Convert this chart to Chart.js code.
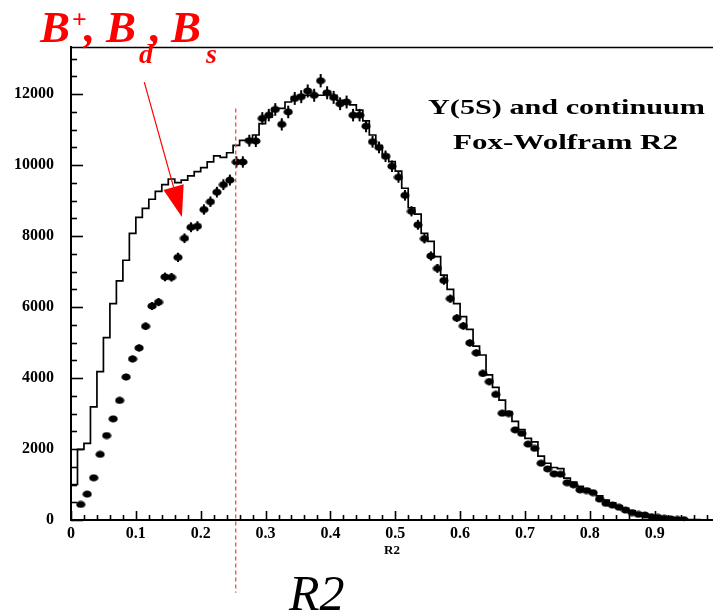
<!DOCTYPE html>
<html><head><meta charset="utf-8">
<script src="https://cdn.jsdelivr.net/npm/chart.js@4.4.1/dist/chart.umd.min.js"></script>
<style>html,body{margin:0;padding:0;background:#fff;overflow:hidden}#wrap{width:713px;height:612px;position:relative}</style>
</head><body><div id="wrap"><canvas id="c" width="713" height="612"></canvas></div>
<script>
// ---- categories: R2 bin centres (bin width 0.01) ----
const R2_BINS = [0.005,0.015,0.025,0.035,0.045,0.055,0.065,0.075,0.085,0.095,
0.105,0.115,0.125,0.135,0.145,0.155,0.165,0.175,0.185,0.195,
0.205,0.215,0.225,0.235,0.245,0.255,0.265,0.275,0.285,0.295,
0.305,0.315,0.325,0.335,0.345,0.355,0.365,0.375,0.385,0.395,
0.405,0.415,0.425,0.435,0.445,0.455,0.465,0.475,0.485,0.495,
0.505,0.515,0.525,0.535,0.545,0.555,0.565,0.575,0.585,0.595,
0.605,0.615,0.625,0.635,0.645,0.655,0.665,0.675,0.685,0.695,
0.705,0.715,0.725,0.735,0.745,0.755,0.765,0.775,0.785,0.795,
0.805,0.815,0.825,0.835,0.845,0.855,0.865,0.875,0.885,0.895,
0.905,0.915,0.925,0.935,0.945,0.955,0.965,0.975,0.985,0.995];
const BIN_HALF = 0.005;

// ---- histogram (continuum + signal MC, stepped line) ----
const HIST = [1000,1990,2160,3190,4180,5140,6100,6740,7320,8080,
8530,8780,9040,9260,9450,9610,9510,9580,9700,9820,
9930,10090,10260,10220,10350,10560,10700,10730,10850,11170,
11350,11600,11600,11780,11920,11970,11970,11970,11970,12070,
11970,11830,11780,11700,11550,11250,10850,10550,10300,10100,
9830,9350,8800,8620,8080,7850,7420,6900,6500,6100,
5730,5370,4900,4650,4090,3740,3380,3050,2780,2550,
2300,2200,1800,1600,1480,1450,1180,1070,950,870,
780,680,560,480,400,330,260,200,160,120,
90,65,45,30,20,12,8,5,3,2];

// ---- data points ----
const DATA = [null,440,730,1190,1850,2380,2850,3370,4030,4540,
4850,5460,6030,6140,6850,6840,7400,7940,8250,8280,
8750,8970,9240,9450,9580,10090,10090,10690,10680,11320,
11410,11570,11150,11500,11880,11930,12090,11970,12380,12040,
11910,11730,11780,11410,11410,11100,10660,10500,10250,9970,
9660,9150,8700,8320,7930,7440,7090,6750,6240,5690,
5470,4990,4710,4130,3900,3540,3010,3000,2540,2440,
2140,2020,1600,1440,1300,1290,1050,990,850,830,
770,590,470,420,360,280,210,160,140,95,
75,50,30,18,10,null,null,null,null,null];

// ---- axes ----
const X_TICKS = [0,0.1,0.2,0.3,0.4,0.5,0.6,0.7,0.8,0.9];
const X_TICK_LABELS = ['0','0.1','0.2','0.3','0.4','0.5','0.6','0.7','0.8','0.9'];
const Y_TICKS = [0,2000,4000,6000,8000,10000,12000];
const Y_TICK_LABELS = ['0','2000','4000','6000','8000','10000','12000'];
const X_RANGE = [0, 0.99];
const Y_RANGE = [0, 13330];
const X_MINOR = 0.02, Y_MINOR = 500;

// ---- annotations ----
const CUT_R2 = 0.254;
const CUT_SPAN = [11600, -2050];
const ARROW_FROM = {x: 0.113, y: 12340};
const ARROW_TIP = {x: 0.171, y: 8540};
const TITLE_LINES = ['Y(5S) and continuum', 'Fox-Wolfram R2'];
const AXIS_TITLE = 'R2';
const BIG_LABEL = 'R2';

// ---- build tables ----
const histPts = [{x: 0, y: 0}];
R2_BINS.forEach((c, i) => histPts.push({x: +(c - BIN_HALF).toFixed(4), y: HIST[i]}));
histPts.push({x: +(R2_BINS[R2_BINS.length - 1] + BIN_HALF).toFixed(4), y: HIST[HIST.length - 1]});
const dataPts = [];
R2_BINS.forEach((c, i) => { if (DATA[i] !== null) dataPts.push({x: c, y: DATA[i]}); });

// ellipse marker
const dot = document.createElement('canvas');
dot.width = 10; dot.height = 8;
(function(){const g = dot.getContext('2d'); g.fillStyle = '#000'; g.beginPath(); g.ellipse(5, 4, 4.6, 3.6, 0, 0, Math.PI*2); g.fill();})();

function stretchText(ctx, text, x, y, font, width, align) {
  ctx.save();
  ctx.font = font;
  const w = ctx.measureText(text).width;
  const s = width / w;
  ctx.translate(align === 'center' ? x - width/2 : x, y);
  ctx.scale(s, 1);
  ctx.textAlign = 'left';
  ctx.fillText(text, 0, 0);
  ctx.restore();
}

const deco = {
  id: 'deco',
  afterDatasetsDraw(chart) {
    const ctx = chart.ctx;
    const meta = chart.getDatasetMeta(1);
    const ds = chart.data.datasets[1].data;
    ctx.save();
    ctx.strokeStyle = '#000'; ctx.lineWidth = 2;
    meta.data.forEach((pt, i) => {
      const hl = 1.5 + 5 * ds[i].y / 12000;
      ctx.beginPath(); ctx.moveTo(pt.x, pt.y - hl); ctx.lineTo(pt.x, pt.y + hl); ctx.stroke();
    });
    ctx.restore();
  },
  afterDraw(chart) {
    const ctx = chart.ctx, xs = chart.scales.x, ys = chart.scales.y, a = chart.chartArea;
    ctx.save();
    // inside ticks
    ctx.strokeStyle = '#000'; ctx.lineWidth = 1.6;
    for (let k = 0; k * Y_MINOR <= Y_RANGE[1]; k++) {
      const v = k * Y_MINOR, y = Math.round(ys.getPixelForValue(v)) + 0.5;
      const len = (v % 2000 === 0) ? 12 : 6;
      ctx.beginPath(); ctx.moveTo(a.left, y); ctx.lineTo(a.left + len, y); ctx.stroke();
    }
    for (let k = 0; k * X_MINOR <= X_RANGE[1] + 1e-9; k++) {
      const x = Math.round(xs.getPixelForValue(k * X_MINOR)) + 0.5;
      const len = (k % 5 === 0) ? 9 : 5;
      ctx.beginPath(); ctx.moveTo(x, a.bottom); ctx.lineTo(x, a.bottom - len); ctx.stroke();
    }
    // top frame
    ctx.lineWidth = 1.6;
    ctx.beginPath(); ctx.moveTo(a.left, a.top + 0.5); ctx.lineTo(a.right, a.top + 0.5); ctx.stroke();
    // cut line
    const cx = xs.getPixelForValue(CUT_R2);
    ctx.strokeStyle = 'rgb(255,70,70)'; ctx.lineWidth = 1.3; ctx.setLineDash([4, 3]);
    ctx.beginPath(); ctx.moveTo(cx, ys.getPixelForValue(CUT_SPAN[0])); ctx.lineTo(cx, ys.getPixelForValue(CUT_SPAN[1])); ctx.stroke();
    ctx.setLineDash([]);
    // arrow
    const x0 = xs.getPixelForValue(ARROW_FROM.x), y0 = ys.getPixelForValue(ARROW_FROM.y);
    const x1 = xs.getPixelForValue(ARROW_TIP.x), y1 = ys.getPixelForValue(ARROW_TIP.y);
    const L = Math.hypot(x1 - x0, y1 - y0), ux = (x1 - x0) / L, uy = (y1 - y0) / L;
    const hlen = 31, hw = 10.5;
    const bx = x1 - ux * hlen, by = y1 - uy * hlen;
    ctx.strokeStyle = '#ff0000'; ctx.fillStyle = '#ff0000'; ctx.lineWidth = 1.2;
    ctx.beginPath(); ctx.moveTo(x0, y0); ctx.lineTo(bx, by); ctx.stroke();
    ctx.beginPath(); ctx.moveTo(x1, y1); ctx.lineTo(bx - uy * hw, by + ux * hw); ctx.lineTo(bx + uy * hw, by - ux * hw); ctx.closePath(); ctx.fill();
    // red particle label
    ctx.textBaseline = 'alphabetic'; ctx.textAlign = 'left';
    const big = 'italic bold 45px "Liberation Serif"', sub = 'italic bold 28px "Liberation Serif"';
    ctx.font = big; ctx.fillText('B', 40, 42);
    ctx.font = 'bold 26px "Liberation Serif"'; ctx.fillText('+', 72, 28);
    ctx.font = big; ctx.fillText(',', 84, 42);
    ctx.fillText('B', 106, 42);
    ctx.font = sub; ctx.fillText('d', 139, 63);
    ctx.font = big; ctx.fillText(',', 150, 42);
    ctx.fillText('B', 171, 42);
    ctx.font = sub; ctx.fillText('s', 206, 63);
    // title lines
    ctx.fillStyle = '#000';
    stretchText(ctx, TITLE_LINES[0], 566.5, 113.5, 'bold 22px "Liberation Serif"', 277, 'center');
    stretchText(ctx, TITLE_LINES[1], 565.5, 148.5, 'bold 22px "Liberation Serif"', 225, 'center');
    // big R2
    ctx.font = 'italic 50px "Liberation Serif"';
    ctx.fillText(BIG_LABEL, 289, 610);
    ctx.restore();
  }
};

const tickFont = {family: 'Liberation Serif', weight: 'bold', size: 16};
new Chart(document.getElementById('c'), {
  type: 'scatter',
  data: {datasets: [
    {label: 'continuum', data: histPts, showLine: true, stepped: 'before', borderColor: '#000', borderWidth: 1.7,
     pointRadius: 0, fill: false, order: 2},
    {label: 'data', data: dataPts, showLine: false, pointStyle: dot, pointRadius: 4, backgroundColor: '#000',
     borderColor: '#000', order: 1}
  ]},
  options: {
    responsive: false, animation: false, devicePixelRatio: 1,
    layout: {autoPadding: false, padding: {top: 47, right: 0, bottom: 0, left: 0}},
    plugins: {legend: {display: false}, tooltip: {enabled: false}},
    scales: {
      x: {type: 'linear', min: X_RANGE[0], max: X_RANGE[1],
        grid: {display: false, drawTicks: false}, border: {display: true, color: '#000', width: 2},
        afterBuildTicks: s => { s.ticks = X_TICKS.map(v => ({value: v})); },
        afterFit: s => { s.height = 92; s.paddingLeft = 0; s.paddingRight = 0; },
        ticks: {padding: 4, font: tickFont, color: '#000', maxRotation: 0, autoSkip: false,
          callback: (v, i) => X_TICK_LABELS[i]},
        title: {display: true, text: AXIS_TITLE, color: '#000',
          font: {family: 'Liberation Serif', weight: 'bold', size: 13}, padding: {top: 0, bottom: 54}}
      },
      y: {type: 'linear', min: Y_RANGE[0], max: Y_RANGE[1],
        grid: {display: false, drawTicks: false}, border: {display: true, color: '#000', width: 2},
        afterBuildTicks: s => { s.ticks = Y_TICKS.map(v => ({value: v})); },
        afterFit: s => { s.width = 71; s.paddingTop = 0; s.paddingBottom = 0; },
        ticks: {padding: 17, font: tickFont, color: '#000', autoSkip: false,
          callback: (v, i) => Y_TICK_LABELS[i]}
      }
    }
  },
  plugins: [deco]
});
</script></body></html>
